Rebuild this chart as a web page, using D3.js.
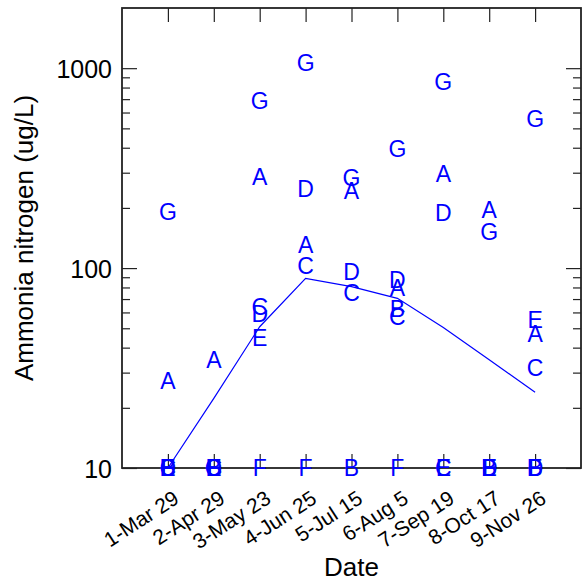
<!DOCTYPE html>
<html>
<head>
<meta charset="utf-8">
<script src="https://cdn.jsdelivr.net/npm/d3@7/dist/d3.min.js"></script>
<style>
  html, body { margin: 0; padding: 0; background: #fff; }
  svg { display: block; font-family: "Liberation Sans", Arial, Helvetica, sans-serif; }
</style>
</head>
<body>
<svg id="chart" width="582" height="582"></svg>
<script>
// ---- data ----
const dates = ["1-Mar 29", "2-Apr 29", "3-May 23", "4-Jun 25", "5-Jul 15", "6-Aug 5", "7-Sep 19", "8-Oct 17", "9-Nov 26"];
const siteA = [27.3, 34.7, 288, 131, 244, 79.4, 298, 195, 47];
const siteB = [10, 10, null, null, 10, 62.4, null, 10, 10];
const siteC = [10, 10, 64, 103, 75, 57.1, 10, null, 31.6];
const siteD = [10, 10, 58.9, 250, 96.3, 87.1, 190, 10, 10];
const siteE = [10, 10, 44.7, null, null, null, 10, 10, 55];
const siteF = [10, 10, 10, 10, null, 10, null, 10, 10];
const siteG = [191, 10, 688, 1069, 284, 397, 858, 152, 557];
const trend = [10, 22.3, 50.9, 88.8, 80.8, 70.6, 50.5, 34.8, 23.9];
const siteNames = ["A", "B", "C", "D", "E", "F", "G"];
const siteValues = [siteA, siteB, siteC, siteD, siteE, siteF, siteG];
const yMajor = [10, 100, 1000];
const yMinor = [20, 30, 40, 50, 60, 70, 80, 90, 200, 300, 400, 500, 600, 700, 800, 900];

// ---- layout ----
const L = 122, R = 581, T = 8, B = 468;
const svg = d3.select("#chart");
const x = d3.scaleLinear().domain([0, dates.length + 1]).range([L, R]);
const y = d3.scaleLog().domain([10, 2000]).range([B, T]);
const blue = "#0000ff";
const axisColor = "#222";

// trend line
const line = d3.line().x((d, i) => x(i + 1)).y(d => y(d));
svg.append("path")
  .datum(trend)
  .attr("d", line)
  .attr("fill", "none")
  .attr("stroke", blue)
  .attr("stroke-width", 1.2);

// axes
function styleAxis(g) {
  g.select(".domain").remove();
  g.selectAll(".tick line").attr("stroke", axisColor).attr("stroke-width", 1.2);
}
// left major
svg.append("g").attr("transform", `translate(${L},0)`)
  .call(d3.axisLeft(y).tickValues(yMajor).tickSize(-15).tickPadding(10).tickFormat(d3.format("d")))
  .call(styleAxis)
  .call(g => g.selectAll("text").attr("font-size", 25).attr("fill", "#000")
    .attr("font-family", "Liberation Sans, Arial, sans-serif").attr("dy", "0.36em"));
// left minor
svg.append("g").attr("transform", `translate(${L},0)`)
  .call(d3.axisLeft(y).tickValues(yMinor).tickSize(-8).tickFormat(""))
  .call(styleAxis);
// right major & minor
svg.append("g").attr("transform", `translate(${R},0)`)
  .call(d3.axisRight(y).tickValues(yMajor).tickSize(-15).tickFormat(""))
  .call(styleAxis);
svg.append("g").attr("transform", `translate(${R},0)`)
  .call(d3.axisRight(y).tickValues(yMinor).tickSize(-8).tickFormat(""))
  .call(styleAxis);
// top
svg.append("g").attr("transform", `translate(0,${T})`)
  .call(d3.axisTop(x).tickValues(d3.range(1, dates.length + 1)).tickSize(-14).tickFormat(""))
  .call(styleAxis);
// bottom
const xb = svg.append("g").attr("transform", `translate(0,${B})`)
  .call(d3.axisBottom(x).tickValues(d3.range(1, dates.length + 1)).tickSize(-14).tickFormat((d) => dates[d - 1]))
  .call(styleAxis);
xb.selectAll("text")
  .attr("font-size", 21)
  .attr("fill", "#000")
  .attr("font-family", "Liberation Sans, Arial, sans-serif")
  .attr("text-anchor", "end")
  .attr("y", 0).attr("dy", 0)
  .attr("transform", "translate(12,34) rotate(-33)");

// frame
svg.append("rect")
  .attr("x", L).attr("y", T).attr("width", R - L).attr("height", B - T)
  .attr("fill", "none").attr("stroke", axisColor).attr("stroke-width", 1.8);

// letter markers
const pts = [];
siteValues.forEach((vals, s) => vals.forEach((v, i) => { if (v != null) pts.push({ name: siteNames[s], i, v }); }));
svg.append("g").selectAll("text").data(pts).join("text")
  .attr("x", d => x(d.i + 1))
  .attr("y", d => y(d.v))
  .attr("dy", "0.36em")
  .attr("text-anchor", "middle")
  .attr("font-size", 23)
  .attr("fill", blue)
  .text(d => d.name);

// axis titles
svg.append("text")
  .attr("x", (L + R) / 2).attr("y", 576)
  .attr("text-anchor", "middle").attr("font-size", 26).attr("fill", "#000")
  .text("Date");
svg.append("text")
  .attr("transform", `translate(33,${(T + B) / 2}) rotate(-90)`)
  .attr("text-anchor", "middle").attr("font-size", 26).attr("fill", "#000")
  .text("Ammonia nitrogen (ug/L)");
</script>
</body>
</html>
